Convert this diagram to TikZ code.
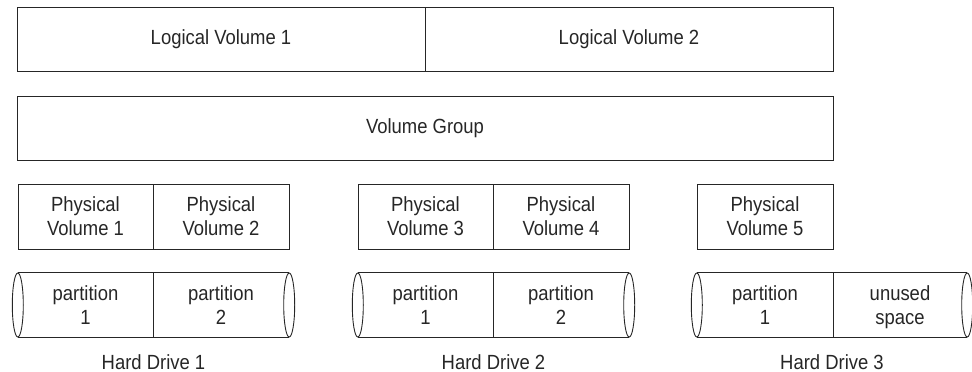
\documentclass[tikz,border=0pt]{standalone}
\usepackage{fontspec}
\setmainfont{Liberation Sans}[FakeStretch=0.9]
\begin{document}
\begin{tikzpicture}[x=1pt,y=-1pt,
  every node/.style={text=black!85,font=\fontsize{20.5}{24}\selectfont},
  box/.style={draw=black!85,line width=0.9pt,inner sep=0pt,align=center},
  part/.style={inner sep=0pt,align=center,minimum height=64pt},
  body/.style={draw=black!85,line width=0.9pt},
  lbl/.style={inner sep=0pt,anchor=base}]
\useasboundingbox (0,0) rectangle (972,372);
% logical volumes
\node[box,minimum width=408pt,minimum height=64pt] (lv1) at (221,39) {Logical Volume 1};
\node[box,minimum width=408pt,minimum height=64pt] (lv2) at (629,39) {Logical Volume 2};
% volume group
\node[box,minimum width=816pt,minimum height=64pt] (vg) at (425,128) {Volume Group};
% physical volumes
\node[box,minimum width=135pt,minimum height=65pt] (pv1) at (85.5,216.5) {Physical\\Volume 1};
\node[box,minimum width=136pt,minimum height=65pt] (pv2) at (221,216.5) {Physical\\Volume 2};
\node[box,minimum width=135pt,minimum height=65pt] (pv3) at (425.5,216.5) {Physical\\Volume 3};
\node[box,minimum width=136pt,minimum height=65pt] (pv4) at (561,216.5) {Physical\\Volume 4};
\node[box,minimum width=136pt,minimum height=65pt] (pv5) at (765,216.5) {Physical\\Volume 5};
% partitions
\node[part,minimum width=135pt] (p11) at (85.5,305) {partition\\1};
\node[part,minimum width=136pt] (p12) at (221,305) {partition\\2};
\node[part,minimum width=135pt] (p21) at (425.5,305) {partition\\1};
\node[part,minimum width=136pt] (p22) at (561,305) {partition\\2};
\node[part,minimum width=136pt] (p31) at (765,305) {partition\\1};
\node[part,minimum width=134pt] (p32) at (900,305) {unused\\\smash{space}};
% cylinder bodies
\foreach \a/\b in {p11/p12,p21/p22,p31/p32}{
  \draw[body] (\a.north west) -- (\b.north east);
  \draw[body] (\a.south west) -- (\b.south east);
  \draw[body] (\a.north east) -- (\a.south east);
  \draw[body] (\a.west) ellipse (5.5 and 32);
  \draw[body] (\b.east) ellipse (5.5 and 32);
}
% drive labels
\node[lbl] (hd1) at (153.5,369) {Hard Drive 1};
\node[lbl] (hd2) at (493.5,369) {Hard Drive 2};
\node[lbl] (hd3) at (832,369) {Hard Drive 3};
\end{tikzpicture}
\end{document}
